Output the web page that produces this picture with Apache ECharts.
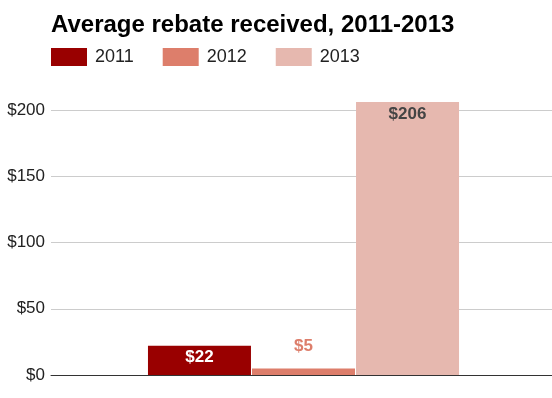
<!DOCTYPE html>
<html>
<head>
<meta charset="utf-8">
<script src="https://cdn.jsdelivr.net/npm/echarts@6/dist/echarts.min.js"></script>
<style>html,body{margin:0;padding:0;background:#fff;overflow:hidden}#c{width:556px;height:398px}</style>
</head>
<body>
<div id="c"></div>
<script>
var title = 'Average rebate received, 2011-2013';
var categories = ['Average rebate'];
var seriesNames = ['2011', '2012', '2013'];
var values2011 = [22];
var values2012 = [5];
var values2013 = [206];
var yTicks = [0, 50, 100, 150, 200];

var colors = ['#990000', '#dd7e6b', '#e6b8af'];
var labelCfg = [
  {position: 'insideTop', distance: 3, color: '#ffffff'},
  {position: 'top', distance: 14, color: '#dd7e6b'},
  {position: 'insideTop', distance: 4, color: '#444444'}
];
var allValues = [values2011, values2012, values2013];

var chart = echarts.init(document.getElementById('c'), null, {renderer: 'canvas'});
chart.setOption({
  animation: false,
  color: colors,
  title: {
    text: title,
    left: 46, top: 8,
    textStyle: {fontFamily: 'Liberation Sans, Arial', fontWeight: 'bold', fontSize: 24, color: '#000'}
  },
  legend: {
    left: 46, top: 43,
    itemWidth: 36, itemHeight: 18, itemGap: 29,
    icon: 'rect',
    textStyle: {fontFamily: 'Liberation Sans, Arial', fontSize: 18, color: '#222', padding: [0, 0, 0, 3]},
    data: seriesNames
  },
  grid: {left: 51, right: 0, top: 110, bottom: 23, containLabel: false},
  xAxis: {
    type: 'category', data: categories,
    axisLine: {show: true, lineStyle: {color: '#333', width: 1}},
    axisTick: {show: false}, axisLabel: {show: false}
  },
  yAxis: {
    type: 'value', min: yTicks[0], max: yTicks[yTicks.length - 1], interval: 50,
    axisLine: {show: false}, axisTick: {show: false},
    axisLabel: {formatter: function (v) { return '$' + v; }, fontFamily: 'Liberation Sans, Arial', fontSize: 17, color: '#222', margin: 6},
    splitLine: {lineStyle: {color: '#cccccc', width: 1}}
  },
  series: seriesNames.map(function (n, i) {
    return {
      name: n, type: 'bar', data: allValues[i],
      barWidth: 103, barGap: '1%', clip: false,
      label: {
        show: true, position: labelCfg[i].position, distance: labelCfg[i].distance,
        color: labelCfg[i].color, fontFamily: 'Liberation Sans Narrow, Arial Narrow, Liberation Sans',
        fontWeight: 'bold', fontSize: 17,
        formatter: function (p) { return '$' + p.value; }
      }
    };
  })
});
</script>
</body>
</html>
